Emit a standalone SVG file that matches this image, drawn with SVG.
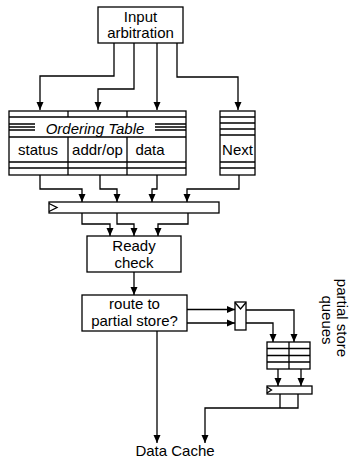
<svg xmlns="http://www.w3.org/2000/svg" width="352" height="460" viewBox="0 0 352 460">
<defs>
<marker id="ah" viewBox="0 0 8 8" refX="8" refY="4" markerWidth="8" markerHeight="8" markerUnits="userSpaceOnUse" orient="auto">
<path d="M0,0.5 L8,4 L0,7.5 Z" fill="#000"/>
</marker>
<style>
.b{fill:#fff;stroke:#000;stroke-width:1.3}
.l{fill:none;stroke:#000;stroke-width:1.3}
.w{fill:none;stroke:#000;stroke-width:1.3;marker-end:url(#ah)}
.t{font-family:"Liberation Sans",Arial,sans-serif;font-size:15px;fill:#000;text-anchor:middle}
</style>
</defs>
<g id="connectors">
<path class="w" d="M114,43 V76 H40 V110"/>
<path class="w" d="M134,43 V89 H98 V110"/>
<path class="w" d="M157,43 V110"/>
<path class="w" d="M177,43 V77 H238 V110"/>
<path class="w" d="M40,175 V189 H82 V202"/>
<path class="w" d="M100,175 V189 H117 V202"/>
<path class="w" d="M157,175 V189 H152 V202"/>
<path class="w" d="M239,175 V189 H187 V202"/>
<path class="w" d="M82,213 V224 H110 V236"/>
<path class="w" d="M117,213 V224 H134 V236"/>
<path class="w" d="M188,213 V224 H158 V236"/>
<path class="w" d="M134,272 V295"/>
<path class="w" d="M187,309.5 H235"/>
<path class="w" d="M187,323 H235"/>
<path class="w" d="M246,310 H294 V342"/>
<path class="w" d="M246,323 H273 V342"/>
<path class="w" d="M278,369 V386"/>
<path class="w" d="M301,369 V386"/>
<path class="l" d="M280,394 V408"/>
<path class="w" d="M298,394 V408 H205 V443"/>
<path class="w" d="M157,331 V443"/>
</g>
<g id="input">
<rect class="b" x="98" y="7" width="85" height="36"/>
<text class="t" x="140.5" y="22">Input</text>
<text class="t" x="140.5" y="38">arbitration</text>
</g>
<g id="ordering-table">
<rect class="b" x="9" y="111" width="177" height="64"/>
<path class="l" d="M9,117 H186 M9,137 H186 M9,162 H186 M9,168 H186 M68,111 V117 M127,111 V117 M68,137 V175 M127,137 V175 M9,124 H35 M9,127 H35 M9,130 H35 M155,124 H186 M155,127 H186 M155,130 H186"/>
<text class="t" x="95" y="134" font-style="italic">Ordering Table</text>
<text class="t" x="38" y="155">status</text>
<text class="t" x="97.5" y="155">addr/op</text>
<text class="t" x="150" y="155">data</text>
</g>
<g id="next">
<rect class="b" x="220" y="111" width="35" height="64"/>
<path class="l" d="M220,117 H255 M220,123 H255 M220,129 H255 M220,135 H255 M220,162 H255 M220,168 H255"/>
<text class="t" x="237.5" y="155">Next</text>
</g>
<g id="register">
<rect class="b" x="49" y="202" width="170" height="11"/>
<path class="l" d="M49,203.5 L57,207.5 L49,211.5"/>
</g>
<g id="ready">
<rect class="b" x="87" y="236" width="94" height="36"/>
<text class="t" x="134" y="251">Ready</text>
<text class="t" x="134" y="268">check</text>
</g>
<g id="route">
<rect class="b" x="82" y="295" width="105" height="36"/>
<text class="t" x="134.5" y="309">route to</text>
<text class="t" x="134.5" y="326">partial store?</text>
</g>
<g id="mux">
<rect class="b" x="235" y="302" width="11" height="28"/>
<path class="l" d="M235,302.5 L240.5,309 L246,302.5"/>
</g>
<g id="queues">
<rect class="b" x="267" y="342" width="43" height="27"/>
<path class="l" d="M289,342 V369 M267,348.5 H310 M267,355.5 H310 M267,362 H310"/>
</g>
<g id="register2">
<rect class="b" x="267" y="386" width="45" height="8"/>
<path class="l" d="M267,387 L271.5,390 L267,393"/>
</g>
<g id="label">
<text class="t" font-size="14" transform="translate(337,318) rotate(90)">partial store</text>
<text class="t" font-size="14" transform="translate(322,320) rotate(90)">queues</text>
</g>
<g id="data-cache">
<text class="t" x="175" y="456">Data Cache</text>
</g>
</svg>
